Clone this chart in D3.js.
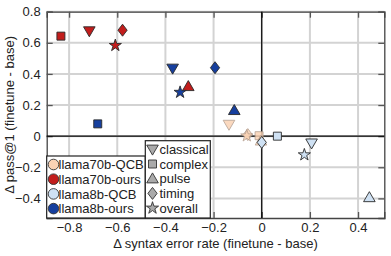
<!DOCTYPE html>
<html><head><meta charset="utf-8">
<script src="https://cdn.jsdelivr.net/npm/d3@7"></script>
<style>body{margin:0;background:#fff}svg{display:block;font-family:"Liberation Sans",Arial,sans-serif}</style>
</head><body><svg id="c" width="391" height="256"></svg>
<script>
const models = ["llama70b-QCB","llama70b-ours","llama8b-QCB","llama8b-ours"];
const modelColors = ["#fbd3b4","#c21d1c","#cfe1f3","#163f9e"];
const tasks = ["classical","complex","pulse","timing","overall"];
// per model, values in task order
const dxVals = [
  [-0.136,-0.011,-0.003,-0.058,-0.062],
  [-0.716,-0.834,-0.305,-0.578,-0.608],
  [0.207,0.065,0.447,0.000,0.177],
  [-0.370,-0.681,-0.114,-0.194,-0.339]
];
const dyVals = [
  [0.075,0.003,-0.030,0.010,0.002],
  [0.676,0.643,0.320,0.681,0.583],
  [-0.045,0.000,-0.394,-0.040,-0.120],
  [0.436,0.079,0.166,0.440,0.282]
];
const xTicks = [-0.8,-0.6,-0.4,-0.2,0,0.2,0.4];
const yTicks = [-0.4,-0.2,0,0.2,0.4,0.6,0.8];

const svg = d3.select("#c");
const L=46.7,R=384.3,T=11.7,B=218;
const x = d3.scaleLinear().domain([-0.893,0.509]).range([L,R]);
const y = d3.scaleLinear().domain([-0.526,0.8]).range([B,T]);

// grid
svg.append("g").selectAll("line").data(xTicks).join("line")
  .attr("x1",d=>x(d)).attr("x2",d=>x(d)).attr("y1",T).attr("y2",B)
  .attr("stroke","#d3d3d3").attr("stroke-width",2);
svg.append("g").selectAll("line").data(yTicks).join("line")
  .attr("y1",d=>y(d)).attr("y2",d=>y(d)).attr("x1",L).attr("x2",R)
  .attr("stroke","#d3d3d3").attr("stroke-width",2);

// axes (inward ticks)
const tickFmt = d=> d===0 ? "0" : d3.format(".1f")(d);
const gx = svg.append("g").attr("transform",`translate(0,${B})`)
  .call(d3.axisBottom(x).tickValues(xTicks).tickSize(-6).tickPadding(5).tickFormat(tickFmt));
const gxt = svg.append("g").attr("transform",`translate(0,${T})`)
  .call(d3.axisTop(x).tickValues(xTicks).tickSize(-6).tickFormat(""));
const gy = svg.append("g").attr("transform",`translate(${L},0)`)
  .call(d3.axisLeft(y).tickValues(yTicks).tickSize(-6).tickPadding(6).tickFormat(tickFmt));
const gyr = svg.append("g").attr("transform",`translate(${R},0)`)
  .call(d3.axisRight(y).tickValues(yTicks).tickSize(-6).tickFormat(""));
[gx,gxt,gy,gyr].forEach(g=>{
  g.select(".domain").attr("stroke","#444").attr("stroke-width",1.3);
  g.selectAll(".tick line").attr("stroke","#555").attr("stroke-width",1.3);
  g.selectAll("text").attr("font-size",13).attr("fill","#222").attr("font-family","Liberation Sans, Arial, sans-serif");
});

// zero lines
svg.append("line").attr("x1",x(0)).attr("x2",x(0)).attr("y1",T).attr("y2",B).attr("stroke","#000").attr("stroke-width",1.2);
svg.append("line").attr("x1",L).attr("x2",R).attr("y1",y(0)).attr("y2",y(0)).attr("stroke","#000").attr("stroke-width",1.2);

// shapes
function shapePath(task){
  switch(task){
    case "classical": return "M-5.8,-4.2L5.8,-4.2L0,5.8Z";
    case "complex": return "M-4,-4H4V4H-4Z";
    case "pulse": return "M-5.8,4.2L5.8,4.2L0,-5.8Z";
    case "timing": return "M0,-6L4.6,0L0,6L-4.6,0Z";
    default: return d3.symbol(d3.symbolStar,46)();
  }
}

const pts=[];
models.forEach((m,i)=>tasks.forEach((t,j)=>pts.push({m:i,t,x:dxVals[i][j],y:dyVals[i][j]})));
svg.append("g").selectAll("path").data(pts).join("path")
  .attr("d",d=>shapePath(d.t))
  .attr("transform",d=>`translate(${x(d.x)},${y(d.y)})`)
  .attr("fill",d=>modelColors[d.m])
  .attr("stroke",d=>d.m===0?"#b09a8a":"#2a2a2a")
  .attr("stroke-width",0.9)
  .attr("opacity",d=>d.m===0?0.85:1);

// legend 1 (models)
const lg1 = svg.append("g");
lg1.append("rect").attr("x",46.7).attr("y",156).attr("width",98.6).attr("height",62).attr("fill","#fff").attr("stroke","#222").attr("stroke-width",1.2);
models.forEach((m,i)=>{
  const cy = 164.5+i*14.7;
  lg1.append("circle").attr("cx",53.5).attr("cy",cy).attr("r",5.3).attr("fill",modelColors[i]).attr("stroke","#333").attr("stroke-width",0.9);
  lg1.append("text").attr("x",58.5).attr("y",cy+4.6).attr("font-size",13).attr("fill","#222").text(m);
});
// legend 2 (tasks)
const lg2 = svg.append("g");
lg2.append("rect").attr("x",145.3).attr("y",140.7).attr("width",65).attr("height",77.3).attr("fill","#fff").attr("stroke","#222").attr("stroke-width",1.2);
tasks.forEach((t,i)=>{
  const cy = 149.3+i*14.7;
  lg2.append("path").attr("d",shapePath(t)).attr("transform",`translate(${152.5},${cy})`)
    .attr("fill","#aaa").attr("stroke","#333").attr("stroke-width",0.9);
  lg2.append("text").attr("x",159.5).attr("y",cy+4.6).attr("font-size",13).attr("fill","#222").text(t);
});

// axis labels
svg.append("text").attr("x",(L+R)/2).attr("y",248).attr("text-anchor","middle").attr("font-size",13).attr("fill","#222")
  .text("Δ syntax error rate (finetune - base)");
svg.append("text").attr("transform",`translate(14,${(T+B)/2}) rotate(-90)`).attr("text-anchor","middle").attr("font-size",13).attr("fill","#222")
  .text("Δ pass@1 (finetune - base)");
</script></body></html>
